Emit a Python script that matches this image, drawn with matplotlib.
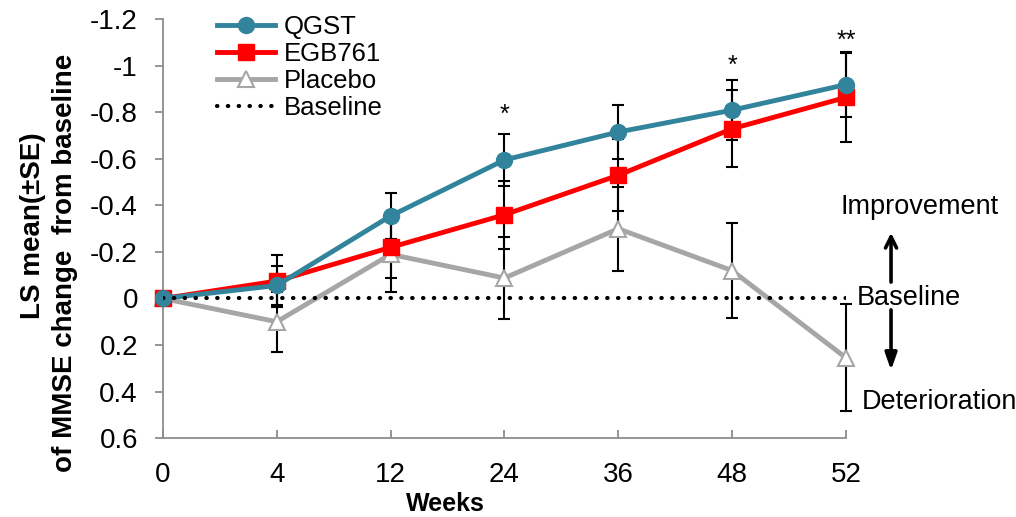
import matplotlib.pyplot as plt
import numpy as np

plt.rcParams['font.family'] = ['Liberation Sans', 'DejaVu Sans']

weeks = ['0', '4', '12', '24', '36', '48', '52']

qgst = [0, -0.056, -0.355, -0.596, -0.716, -0.81, -0.92]
qgst_se = [0, 0.085, 0.10, 0.11, 0.115, 0.13, 0.14]

egb = [0, -0.075, -0.22, -0.36, -0.53, -0.73, -0.865]
egb_se = [0, 0.11, 0.13, 0.145, 0.155, 0.165, 0.19]

placebo = [0, 0.10, -0.19, -0.088, -0.30, -0.12, 0.255]
placebo_se = [0, 0.13, 0.16, 0.175, 0.18, 0.205, 0.23]

# significance marks: (week index, label, y position)
stars = [(3, '*', -0.79), (5, '*', -1.0), (6, '**', -1.11)]

x = np.arange(len(weeks))

fig = plt.figure(figsize=(10.16, 5.17), dpi=100)
ax = fig.add_axes([0.1604, 0.1528, 0.6722, 0.8095])

ebkw = dict(fmt='none', ecolor='black', elinewidth=1.5, capsize=4, capthick=1.5, zorder=2, clip_on=False)
ax.errorbar(x[1:], placebo[1:], yerr=placebo_se[1:], **ebkw)
ax.errorbar(x[1:], egb[1:], yerr=egb_se[1:], **ebkw)
ax.errorbar(x[1:], qgst[1:], yerr=qgst_se[1:], **ebkw)

ax.plot(x, placebo, color='#A6A6A6', lw=3.5, marker='^', ms=11.5, mfc='white',
        mec='#A6A6A6', mew=1.5, label='Placebo', zorder=3, clip_on=False)
ax.plot(x, egb, color='#FF0000', lw=3.5, marker='s', ms=11, label='EGB761', zorder=4, clip_on=False)
ax.plot(x, qgst, color='#31849B', lw=3.5, marker='o', ms=11.5, label='QGST', zorder=5, clip_on=False)
ax.plot(x, np.zeros(len(x)), color='black', lw=3.0, ls=(0, (0.1, 2.5)), dash_capstyle='round',
        label='Baseline', zorder=6)

for i, s, yv in stars:
    ax.text(x[i], yv, s, ha='center', va='center', fontsize=18)

ax.set_xlim(0, 6)
ax.set_ylim(0.6, -1.2)
ax.set_yticks(np.arange(-1.2, 0.61, 0.2))
ax.set_yticklabels(['-1.2', '-1', '-0.8', '-0.6', '-0.4', '-0.2', '0', '0.2', '0.4', '0.6'])
ax.set_xticks(x)
ax.set_xticklabels(weeks)
ax.tick_params(axis='y', direction='out', length=6, width=1.3, color='#8C8C8C', labelsize=20, pad=12)
ax.tick_params(axis='x', direction='in', length=6, width=1.3, color='#8C8C8C', labelsize=20, pad=17)
for side in ['top', 'right']:
    ax.spines[side].set_visible(False)
for side in ['left', 'bottom']:
    ax.spines[side].set_color('#8C8C8C')
    ax.spines[side].set_linewidth(1.3)

ax.set_xlabel('Weeks', fontsize=18, fontweight='bold')
ax.xaxis.set_label_coords(0.414, -0.128)
fig.text(33 / 1016, 1 - 226 / 517, 'LS mean(\u00b1SE)', rotation=90, ha='center', va='center',
         fontsize=20, fontweight='bold')
fig.text(65 / 1016, 1 - 263 / 517, 'of MMSE change  from baseline', rotation=90, ha='center',
         va='center', fontsize=20, fontweight='bold')

h, l = ax.get_legend_handles_labels()
order = [2, 1, 0, 3]
ax.legend([h[i] for i in order], [l[i] for i in order], loc='upper left',
          bbox_to_anchor=(0.064, 1.035), frameon=False, fontsize=18.5,
          handlelength=2.25, handletextpad=0.35, labelspacing=0.12, borderaxespad=0)

fig.text(0.9055, 0.600, 'Improvement', ha='center', va='center', fontsize=19.5)
fig.text(0.895, 0.4236, 'Baseline', ha='center', va='center', fontsize=19.5)
fig.text(0.925, 0.222, 'Deterioration', ha='center', va='center', fontsize=19.5)
ax.annotate('', xy=(0.877, 0.555), xytext=(0.877, 0.449), xycoords='figure fraction',
            arrowprops=dict(arrowstyle='->,head_width=0.4,head_length=0.8', lw=2.6, color='black'))
ax.annotate('', xy=(0.877, 0.2785), xytext=(0.877, 0.406), xycoords='figure fraction',
            arrowprops=dict(arrowstyle='-|>,head_width=0.35,head_length=1.0', lw=2.6, color='black'))

fig.savefig('out.png', dpi=100)
